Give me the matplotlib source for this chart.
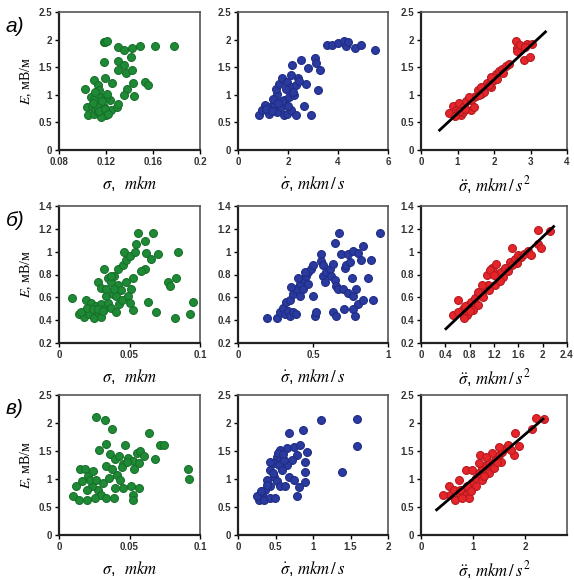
import numpy as np
import matplotlib.pyplot as plt

plt.rcParams['mathtext.fontset'] = 'stix'
plt.rcParams['font.family'] = ['Liberation Sans', 'DejaVu Sans']

# ---- row а) ----
a_sig = [0.1186, 0.119, 0.121, 0.130, 0.135, 0.142, 0.149, 0.162, 0.178, 0.118, 0.130, 0.135,
         0.141, 0.130, 0.137, 0.142, 0.119, 0.125, 0.138, 0.143, 0.153, 0.156, 0.135, 0.144,
         0.102, 0.110, 0.113, 0.107, 0.104, 0.105, 0.110, 0.116, 0.118, 0.113, 0.110, 0.116,
         0.114, 0.120, 0.124, 0.129, 0.130, 0.123, 0.120, 0.108, 0.111, 0.113, 0.116, 0.115,
         0.112, 0.117, 0.121, 0.109, 0.114, 0.119, 0.122, 0.111]
a_sig_E = [1.96, 1.95, 1.97, 1.87, 1.82, 1.84, 1.89, 1.89, 1.89, 1.60, 1.61, 1.54,
           1.69, 1.45, 1.40, 1.45, 1.31, 1.22, 1.11, 1.22, 1.23, 1.17, 0.99, 0.98,
           1.10, 1.27, 1.17, 0.96, 0.78, 0.63, 0.66, 0.72, 0.78, 0.84, 0.90, 0.96,
           1.08, 0.63, 0.72, 0.78, 0.84, 0.90, 0.96, 0.78, 0.75, 0.69, 0.60, 0.82,
           0.80, 0.88, 1.02, 0.86, 0.70, 0.74, 0.66, 1.05]

a_dsig = [0.82, 0.95, 1.09, 1.29, 1.43, 1.22, 1.56, 1.70, 1.84, 1.97, 2.10, 2.31, 2.65, 2.93,
          1.84, 2.04, 2.24, 1.56, 1.50, 1.63, 1.77, 1.97, 2.10, 2.31, 2.38, 2.10, 2.17, 2.50,
          2.72, 2.79, 3.06, 3.13, 3.27, 3.20, 3.54, 3.74, 4.01, 4.22, 4.31, 4.69, 4.90, 5.48,
          4.40, 1.10, 1.35, 1.75, 2.00, 2.20, 1.40, 1.90, 2.45, 1.60]
a_dsig_E = [0.63, 0.72, 0.81, 0.78, 0.84, 0.66, 0.69, 0.78, 0.63, 0.66, 0.72, 0.63, 0.80, 0.63,
            0.90, 0.96, 0.99, 1.02, 1.11, 1.20, 1.30, 1.23, 1.14, 1.17, 1.30, 1.35, 1.54, 1.63,
            1.20, 1.48, 1.66, 1.57, 1.45, 1.08, 1.90, 1.90, 1.94, 1.98, 1.88, 1.84, 1.90, 1.81,
            1.96, 0.75, 0.70, 0.88, 0.80, 1.05, 0.92, 1.10, 1.25, 0.85]

a_ddsig = [2.59, 2.63, 2.72, 2.90, 3.04, 2.81, 2.99, 2.63, 0.78, 0.87, 0.96, 1.05, 1.10, 1.19,
           1.28, 1.37, 1.46, 1.55, 1.64, 1.73, 1.82, 1.91, 2.00, 2.05, 2.09, 2.14, 2.23, 2.32,
           2.41, 1.91, 1.64, 1.37, 1.23, 1.01, 1.14, 1.46, 1.32, 1.73, 0.92, 1.08, 1.52, 1.85,
           2.70, 2.85, 1.20, 1.60, 2.25]
a_ddsig_E = [1.98, 1.84, 1.87, 1.92, 1.92, 1.63, 1.68, 1.80, 0.67, 0.79, 0.72, 0.85, 0.64, 0.79,
             0.90, 0.73, 0.96, 1.08, 1.02, 1.14, 1.21, 1.14, 1.26, 1.38, 1.29, 1.44, 1.47, 1.53,
             1.56, 1.32, 1.14, 0.90, 0.88, 0.69, 0.69, 0.78, 0.96, 1.05, 0.62, 0.70, 0.98, 1.18,
             1.90, 1.86, 0.75, 1.00, 1.40]
a_line_x = [0.51, 3.41]
a_line_E = [0.36, 2.14]

# ---- row б) ----
b_sig = [0.0095, 0.0143, 0.0179, 0.0214, 0.025, 0.0274, 0.0298, 0.019, 0.0226, 0.026, 0.0298,
         0.0321, 0.0345, 0.0369, 0.0405, 0.0429, 0.0274, 0.0298, 0.0321, 0.0345, 0.0369, 0.0393,
         0.0417, 0.044, 0.0417, 0.0452, 0.0476, 0.0464, 0.050, 0.0524, 0.0512, 0.0524, 0.0536,
         0.0548, 0.056, 0.0607, 0.0619, 0.0667, 0.0702, 0.0655, 0.0607, 0.0583, 0.0631, 0.069,
         0.0774, 0.0786, 0.0833, 0.0845, 0.0821, 0.0929, 0.0952, 0.0155, 0.0202, 0.0238, 0.0274,
         0.031, 0.0333, 0.038, 0.0405, 0.045, 0.0488, 0.050, 0.0476, 0.0393, 0.0333, 0.0369]
b_sig_E = [0.594, 0.45, 0.43, 0.45, 0.42, 0.47, 0.43, 0.58, 0.55, 0.52, 0.54,
           0.50, 0.55, 0.51, 0.47, 0.54, 0.73, 0.68, 0.85, 0.77, 0.73, 0.79,
           0.71, 0.66, 0.85, 0.88, 0.93, 1.00, 0.96, 0.77, 0.67, 0.49, 1.00,
           1.07, 1.16, 1.09, 0.99, 1.16, 0.98, 0.94, 0.85, 0.83, 0.56, 0.47,
           0.73, 0.70, 0.77, 1.00, 0.42, 0.45, 0.56, 0.47, 0.51, 0.50, 0.50,
           0.48, 0.61, 0.63, 0.61, 0.58, 0.61, 0.55, 0.73, 0.67, 0.67, 0.79]

b_dsig = [0.193, 0.26, 0.278, 0.30, 0.311, 0.333, 0.344, 0.367, 0.389, 0.322, 0.344, 0.367,
          0.389, 0.356, 0.411, 0.433, 0.456, 0.467, 0.489, 0.50, 0.411, 0.433, 0.467, 0.444,
          0.40, 0.50, 0.511, 0.522, 0.556, 0.556, 0.567, 0.578, 0.589, 0.611, 0.633, 0.622,
          0.644, 0.656, 0.667, 0.644, 0.673, 0.689, 0.711, 0.733, 0.767, 0.80, 0.833, 0.822,
          0.889, 0.944, 0.70, 0.733, 0.767, 0.789, 0.80, 0.833, 0.762, 0.867, 0.90, 0.633,
          0.656, 0.704, 0.767, 0.778, 0.722, 0.744, 0.567]
b_dsig_E = [0.416, 0.42, 0.47, 0.51, 0.45, 0.48, 0.44, 0.47, 0.45, 0.56, 0.58, 0.63,
            0.67, 0.69, 0.72, 0.76, 0.79, 0.82, 0.85, 0.88, 0.61, 0.67, 0.72, 0.82,
            0.77, 0.61, 0.44, 0.47, 0.98, 0.92, 0.79, 0.73, 0.82, 0.85, 0.89, 0.79,
            0.75, 0.70, 0.67, 1.08, 1.16, 0.98, 0.86, 0.98, 1.01, 0.99, 1.05, 0.93,
            0.93, 1.16, 0.67, 0.64, 0.61, 0.67, 0.54, 0.58, 0.77, 0.77, 0.58, 0.47,
            0.44, 0.50, 0.50, 0.44, 0.88, 0.91, 0.88]

b_ddsig = [0.53, 0.61, 0.69, 0.75, 0.78, 0.83, 0.89, 0.94, 0.86, 1.00, 1.05, 1.10, 1.08, 1.16,
           1.19, 1.24, 1.27, 1.32, 1.38, 1.43, 1.46, 1.49, 1.54, 1.60, 1.65, 1.70, 1.76, 1.81,
           1.92, 1.97, 1.92, 2.12, 1.00, 0.94, 1.21, 0.61, 0.72, 1.12, 1.35, 1.58, 0.80, 1.02,
           1.14, 1.20, 1.30, 0.70, 1.50]
b_ddsig_E = [0.445, 0.58, 0.50, 0.445, 0.53, 0.56, 0.59, 0.53, 0.49, 0.62, 0.68, 0.71, 0.80, 0.86,
             0.83, 0.89, 0.77, 0.82, 0.86, 0.83, 0.91, 1.03, 0.94, 0.97, 0.95, 0.98, 1.01, 0.97,
             1.07, 1.03, 1.19, 1.18, 0.71, 0.65, 0.71, 0.47, 0.52, 0.66, 0.78, 0.90, 0.48, 0.60,
             0.84, 0.80, 0.74, 0.42, 0.88]
b_line_x = [0.41, 2.18]
b_line_E = [0.325, 1.22]

# ---- row в) ----
c_sig = [0.0265, 0.0327, 0.0377, 0.0641, 0.0713, 0.0747, 0.068, 0.0915, 0.092, 0.0287, 0.0332,
         0.0466, 0.0365, 0.0399, 0.0422, 0.0457, 0.049, 0.0524, 0.0556, 0.0578, 0.060, 0.0567,
         0.0534, 0.0332, 0.0377, 0.041, 0.0354, 0.0433, 0.0309, 0.0276, 0.0298, 0.0332, 0.0388,
         0.0399, 0.0455, 0.0511, 0.0567, 0.0522, 0.0522, 0.0096, 0.0141, 0.0119, 0.0164, 0.0152,
         0.0186, 0.0209, 0.0231, 0.0202, 0.0253, 0.0197, 0.0242, 0.022, 0.0265, 0.0445, 0.0480]
c_sig_E = [2.10, 2.05, 1.89, 1.83, 1.60, 1.60, 1.35, 1.18, 1.00, 1.51, 1.62,
           1.60, 1.44, 1.35, 1.41, 1.26, 1.38, 1.32, 1.47, 1.50, 1.41, 1.29,
           1.17, 1.23, 1.17, 1.08, 1.02, 0.99, 0.93, 0.81, 0.72, 0.66, 0.66,
           0.84, 0.84, 0.87, 0.84, 0.72, 0.63, 0.69, 0.63, 0.87, 0.96, 1.17,
           1.17, 1.05, 0.87, 0.63, 0.66, 0.81, 1.14, 0.99, 0.99, 1.22, 1.30]

c_dsig = [1.107, 1.58, 1.58, 1.387, 0.684, 0.867, 0.92, 0.898, 0.898, 0.898, 0.787, 0.809,
          0.653, 0.742, 0.831, 0.787, 0.72, 0.653, 0.676, 0.742, 0.564, 0.52, 0.476, 0.542,
          0.587, 0.431, 0.387, 0.476, 0.52, 0.431, 0.364, 0.32, 0.276, 0.253, 0.342, 0.431,
          0.498, 0.564, 0.631, 0.609, 0.431, 0.529, 0.30, 0.38, 0.46, 0.60]
c_dsig_E = [2.05, 2.08, 1.59, 1.12, 1.82, 1.88, 1.49, 1.31, 1.12, 0.94, 0.70, 0.85,
            1.55, 1.58, 1.61, 1.43, 1.34, 1.25, 1.04, 0.99, 1.52, 1.40, 1.28, 1.25,
            1.16, 1.16, 0.99, 1.04, 0.96, 0.87, 0.81, 0.72, 0.63, 0.69, 0.63, 0.66,
            0.66, 0.87, 0.87, 1.34, 1.31, 1.46, 0.78, 0.90, 1.10, 1.45]

c_ddsig = [2.21, 2.35, 2.13, 1.81, 1.87, 1.79, 1.14, 0.86, 0.53, 0.56, 0.72, 0.79, 0.85, 0.92,
           0.98, 1.05, 1.11, 1.17, 1.24, 1.30, 1.37, 1.43, 1.50, 1.56, 1.63, 1.66, 1.72, 1.50,
           1.37, 1.24, 1.11, 0.98, 0.72, 0.66, 0.79, 0.88, 1.05, 1.17, 1.30, 1.40, 1.53, 0.63,
           0.43, 0.75, 0.95, 1.20, 1.45]
c_ddsig_E = [2.09, 2.07, 1.89, 1.82, 1.59, 1.43, 1.43, 1.16, 0.87, 0.72, 0.99, 0.81, 0.72, 0.66,
             0.93, 1.01, 1.10, 1.19, 1.25, 1.31, 1.25, 1.37, 1.43, 1.49, 1.55, 1.61, 1.52, 1.58,
             1.46, 1.40, 1.28, 1.16, 0.75, 0.63, 0.66, 0.87, 0.87, 0.99, 1.10, 1.19, 1.31, 0.81,
             0.72, 0.80, 0.78, 1.05, 1.30]
c_line_x = [0.30, 2.34]
c_line_E = [0.45, 2.07]

green = '#1f8a35'
blue = '#2a3a9e'
red = '#e5252a'
edges = ['#17702a', '#1f2d85', '#b51a1f']

lab_sig = r'$\sigma$,  $mkm$'
lab_dsig = r'$\dot{\sigma}$, $mkm\,/\,s$'
lab_ddsig = r'$\ddot{\sigma}$, $mkm\,/\,s^2$'

fig = plt.figure(figsize=(5.74, 5.80), dpi=100)
W, H = 574, 580


def make_ax(x0, x1, ytop, ybot):
    return fig.add_axes([x0 / W, 1 - ybot / H, (x1 - x0) / W, (ybot - ytop) / H])


def style(ax, xlim, xticks, xticklabels, ylim, yticks, yticklabels, xlabel):
    ax.set_xlim(xlim)
    ax.set_ylim(ylim)
    ax.set_xticks(xticks)
    ax.set_xticklabels(xticklabels, fontweight='bold')
    ax.set_yticks(yticks)
    ax.set_yticklabels(yticklabels, fontweight='bold')
    ax.tick_params(labelsize=7, length=3, width=1, pad=2, labelcolor='#333333')
    for s in ['left', 'bottom']:
        ax.spines[s].set_linewidth(1.6)
        ax.spines[s].set_color('#222222')
    for s in ['top', 'right']:
        ax.spines[s].set_linewidth(1.2)
        ax.spines[s].set_color('#555555')
    ax.set_xlabel(xlabel, fontsize=12, labelpad=5)


rows = [
    dict(top=12, bot=150, letter='а)',
         ylim=(0, 2.5), yt=[0, 0.5, 1, 1.5, 2, 2.5], ytl=['0', '0.5', '1', '1.5', '2', '2.5'],
         p1=(a_sig, a_sig_E, (0.08, 0.2), [0.08, 0.12, 0.16, 0.2], ['0.08', '0.12', '0.16', '0.2']),
         p2=(a_dsig, a_dsig_E, (0, 6), [0, 2, 4, 6], ['0', '2', '4', '6']),
         p3=(a_ddsig, a_ddsig_E, (0, 4), [0, 1, 2, 3, 4], ['0', '1', '2', '3', '4']),
         line=(a_line_x, a_line_E)),
    dict(top=206, bot=343, letter='б)',
         ylim=(0.2, 1.4), yt=[0.2, 0.4, 0.6, 0.8, 1.0, 1.2, 1.4],
         ytl=['0.2', '0.4', '0.6', '0.8', '1', '1.2', '1.4'],
         p1=(b_sig, b_sig_E, (0, 0.1), [0, 0.05, 0.1], ['0', '0.05', '0.1']),
         p2=(b_dsig, b_dsig_E, (0, 1), [0, 0.5, 1], ['0', '0.5', '1']),
         p3=(b_ddsig, b_ddsig_E, (0, 2.4), [0, 0.4, 0.8, 1.2, 1.6, 2.0, 2.4],
             ['0', '0.4', '0.8', '1.2', '1.6', '2', '2.4']),
         line=(b_line_x, b_line_E)),
    dict(top=395, bot=535, letter='в)',
         ylim=(0, 2.5), yt=[0, 0.5, 1, 1.5, 2, 2.5], ytl=['0', '0.5', '1', '1.5', '2', '2.5'],
         p1=(c_sig, c_sig_E, (0, 0.1), [0, 0.05, 0.1], ['0', '0.05', '0.1']),
         p2=(c_dsig, c_dsig_E, (0, 2), [0, 0.5, 1, 1.5, 2], ['0', '0.5', '1', '1.5', '2']),
         p3=(c_ddsig, c_ddsig_E, (0, 2.8), [0, 1, 2], ['0', '1', '2']),
         line=(c_line_x, c_line_E)),
]

cols = [(59, 200), (238, 388), (421, 567)]
colors = [green, blue, red]
labels = [lab_sig, lab_dsig, lab_ddsig]

for r in rows:
    for j, key in enumerate(['p1', 'p2', 'p3']):
        xs, ys, xlim, xt, xtl = r[key]
        ax = make_ax(cols[j][0], cols[j][1], r['top'], r['bot'])
        ax.scatter(xs, ys, s=32, color=colors[j], edgecolors=edges[j],
                   linewidths=0.8, zorder=2)
        style(ax, xlim, xt, xtl, r['ylim'], r['yt'], r['ytl'], labels[j])
        if j == 2:
            lx, ly = r['line']
            ax.plot(lx, ly, color='black', linewidth=2, zorder=3)
        if j == 0:
            ax.set_ylabel(r'$E$, мВ/м', fontsize=10, family=['Liberation Serif', 'DejaVu Serif'],
                          labelpad=3)
    fig.text(6 / W, 1 - (r['top'] + 14) / H, r['letter'], fontsize=15, style='italic',
             va='center', ha='left')

fig.savefig('out.png', dpi=100)
